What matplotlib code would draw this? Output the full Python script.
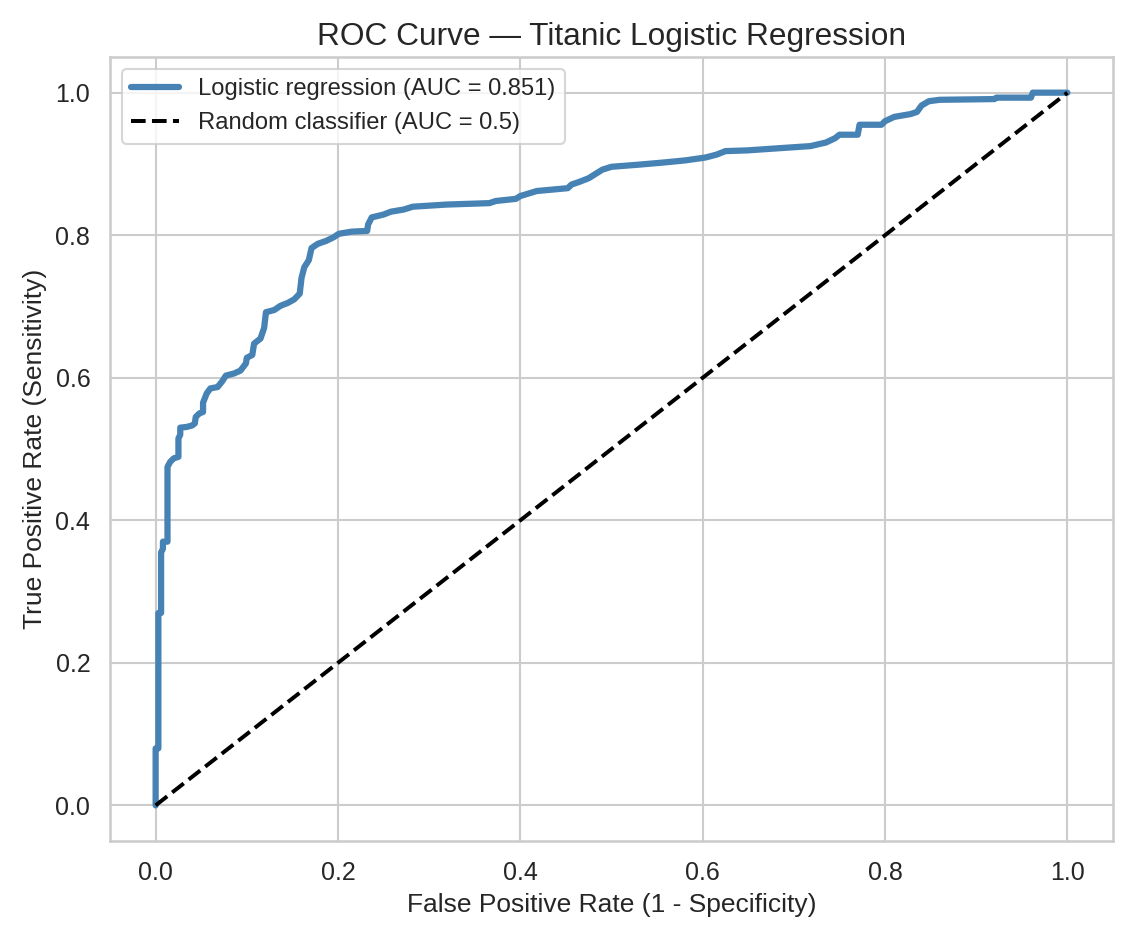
import matplotlib
matplotlib.use("Agg")
import matplotlib.pyplot as plt
import seaborn as sns

# ROC curve vertices
fpr = [0.0, 0.0, 0.003, 0.003, 0.006, 0.006, 0.008, 0.008, 0.013, 0.013,
       0.016, 0.020, 0.025, 0.025, 0.027, 0.027, 0.034, 0.040, 0.043, 0.044,
       0.048, 0.052, 0.052, 0.056, 0.060, 0.068, 0.073, 0.077, 0.086, 0.093,
       0.099, 0.100, 0.106, 0.108, 0.115, 0.119, 0.121, 0.130, 0.137, 0.145,
       0.152, 0.158, 0.160, 0.163, 0.168, 0.171, 0.178, 0.187, 0.195, 0.201,
       0.215, 0.232, 0.233, 0.237, 0.250, 0.258, 0.272, 0.282, 0.319, 0.366,
       0.373, 0.395, 0.400, 0.418, 0.452, 0.456, 0.465, 0.475, 0.485, 0.490,
       0.500, 0.530, 0.557, 0.581, 0.603, 0.615, 0.625, 0.649, 0.683, 0.718,
       0.735, 0.745, 0.750, 0.770, 0.772, 0.796, 0.800, 0.810, 0.828, 0.835,
       0.840, 0.848, 0.860, 0.920, 0.922, 0.960, 0.962, 1.0]
tpr = [0.0, 0.080, 0.080, 0.270, 0.270, 0.355, 0.360, 0.370, 0.370, 0.475,
       0.482, 0.487, 0.489, 0.515, 0.520, 0.530, 0.531, 0.533, 0.536, 0.545,
       0.550, 0.552, 0.565, 0.578, 0.585, 0.587, 0.595, 0.603, 0.606, 0.610,
       0.620, 0.628, 0.632, 0.648, 0.655, 0.670, 0.692, 0.695, 0.701, 0.705,
       0.710, 0.718, 0.740, 0.755, 0.765, 0.782, 0.788, 0.792, 0.797, 0.802,
       0.805, 0.806, 0.815, 0.825, 0.829, 0.833, 0.836, 0.840, 0.843, 0.845,
       0.848, 0.851, 0.855, 0.862, 0.866, 0.871, 0.875, 0.880, 0.888, 0.892,
       0.896, 0.899, 0.902, 0.905, 0.909, 0.913, 0.918, 0.919, 0.922, 0.925,
       0.930, 0.936, 0.941, 0.941, 0.955, 0.955, 0.960, 0.966, 0.970, 0.973,
       0.982, 0.988, 0.990, 0.991, 0.993, 0.993, 1.0, 1.0]
auc_score = 0.851

sns.set_theme(style="whitegrid")
plt.rcParams["font.family"] = ["Liberation Sans", "DejaVu Sans"]

fig = plt.figure(figsize=(1131 / 150, 938 / 150), dpi=150)
ax = fig.add_axes([0.0973, 0.1034, 0.8868, 0.8358])

ax.plot(fpr, tpr, color="steelblue", lw=3,
        label=f"Logistic regression (AUC = {auc_score:.3f})")
ax.plot([0, 1], [0, 1], color="black", ls="--", lw=1.9,
        label="Random classifier (AUC = 0.5)")

ax.set_xlim(-0.05, 1.05)
ax.set_ylim(-0.05, 1.05)
ax.tick_params(labelsize=12)
ax.set_xlabel("False Positive Rate (1 - Specificity)", fontsize=12.7)
ax.set_ylabel("True Positive Rate (Sensitivity)", fontsize=12.7)
ax.set_title("ROC Curve \u2014 Titanic Logistic Regression", fontsize=15.2)
ax.legend(loc="upper left", fontsize=11.4)

fig.savefig("out.png", dpi=150)
